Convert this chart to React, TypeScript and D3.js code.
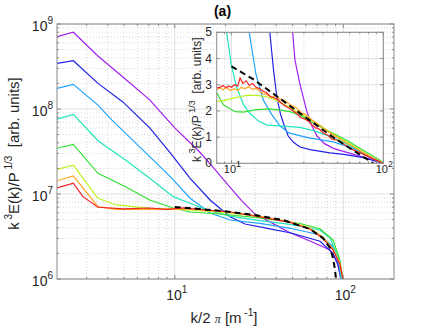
import React from 'react';
import * as d3 from 'd3';

// ---- main panel data: [k/2pi, k^3 E(k)/P^(1/3)] ----
const mainPurple = [[2, 7.1e8], [2.5, 8.0e8], [3.5, 4.2e8], [4.9, 2.4e8], [7.1, 1.28e8], [10, 6.0e7], [14.1, 3.1e7], [17.5, 1.9e7], [21.3, 1.2e7], [25, 8.3e6], [29.9, 5.8e6], [36.7, 4.7e6], [48.3, 3.5e6], [63.4, 2.8e6], [83.4, 2.2e6], [91.8, 1.6e6], [95.5, 1.2e6], [98, 7e5], [99, 4e5]];
const mainBlue = [[2, 3.45e8], [2.5, 3.7e8], [3.5, 2.0e8], [4.9, 1.22e8], [7.1, 6.0e7], [9.4, 3.04e7], [12.3, 1.54e7], [16.2, 8.5e6], [21.3, 5.4e6], [26.1, 4.44e6], [35.5, 3.95e6], [49, 3.48e6], [72.8, 2.78e6], [86.9, 2.0e6], [93.1, 1.46e6], [96.9, 1.0e6], [99, 4e5]];
const mainLightBlue = [[2, 1.75e8], [2.5, 1.95e8], [3.5, 1.11e8], [4.24, 7.4e7], [7.1, 2.75e7], [9.4, 1.6e7], [12.3, 8.97e6], [16.2, 5.98e6], [21.3, 4.94e6], [32, 4.52e6], [48.7, 3.95e6], [72.8, 3.29e6], [86.9, 2.4e6], [95.5, 1.4e6], [99.2, 4e5]];
const mainTeal = [[2, 7.6e7], [2.5, 8.66e7], [3.5, 4.24e7], [5.1, 2.51e7], [7.1, 1.53e7], [9.8, 9.3e6], [12.3, 7.78e6], [16.2, 6.3e6], [21.3, 5.5e6], [32, 4.85e6], [48.3, 4.4e6], [72.8, 3.77e6], [83.4, 3.03e6], [93.1, 1.82e6], [98.2, 1.0e6], [100, 4e5]];
const mainGreen = [[2, 3.45e7], [2.5, 3.84e7], [3.5, 1.75e7], [5.1, 1.22e7], [7.1, 8.5e6], [9.8, 6.84e6], [12.3, 6.14e6], [18.5, 5.82e6], [32, 5.25e6], [55.4, 4.5e6], [72.8, 3.9e6], [86.9, 2.88e6], [95.5, 1.67e6], [99.5, 1.0e6], [100.5, 4e5]];
const mainYellow = [[2, 1.95e7], [2.5, 2.19e7], [3.5, 8.9e6], [4.5, 7.43e6], [7.1, 6.79e6], [12.3, 6.48e6], [21.3, 6.0e6], [32, 5.45e6], [48.3, 4.69e6], [63.4, 3.98e6], [75.8, 3.1e6], [86.9, 2.25e6], [95.5, 1.5e6], [99.5, 1.0e6], [100.5, 4e5]];
const mainOrange = [[2, 1.43e7], [2.5, 1.63e7], [3.5, 7.1e6], [4.5, 6.61e6], [7.1, 6.58e6], [12.3, 6.67e6], [21.3, 6.14e6], [32, 5.45e6], [48.3, 4.69e6], [63.4, 3.93e6], [75.8, 3.06e6], [86.9, 2.25e6], [95.5, 1.5e6], [99.5, 1.0e6], [100.5, 4e5]];
const mainRed = [[2, 1.18e7], [2.5, 1.34e7], [2.85, 9.3e6], [3.5, 6.98e6], [5, 6.7e6], [7.1, 6.84e6], [9, 6.6e6], [11.2, 6.88e6], [15, 6.5e6], [21.3, 6.14e6], [32, 5.36e6], [48.3, 4.63e6], [63.4, 3.87e6], [75.8, 3.0e6], [86.9, 2.2e6], [95.5, 1.48e6], [99.5, 1.0e6], [100.5, 4e5]];
const mainFit = [[10, 7.03e6], [14.1, 6.67e6], [20.4, 6.23e6], [29.9, 5.66e6], [43.9, 4.94e6], [63.4, 3.87e6], [75.8, 3.03e6], [83.4, 2.32e6], [86.9, 1.77e6], [89.3, 1.28e6], [90.5, 1.0e6], [91, 8e5]];

// ---- inset data: [k/2pi, compensated spectrum] ----
const insetPurple = [[24.8, 6], [25.3, 5], [26.2, 3.94], [28.3, 3.0], [31.3, 2.0], [34, 1.4], [36.5, 1.05], [41, 0.75], [46.9, 0.57], [60.4, 0.38], [77.9, 0.2], [100, 0]];
const insetBlue = [[17.5, 6], [17.9, 5], [18.9, 3.6], [19.9, 2.54], [21, 1.9], [22, 1.53], [23.6, 1.05], [25.6, 0.8], [28.3, 0.62], [32.9, 0.52], [44.5, 0.4], [55, 0.34], [73.6, 0.22], [100, 0]];
const insetLightBlue = [[12.6, 6], [13.1, 5], [14.5, 3.4], [16.2, 2.42], [18.5, 1.85], [20.9, 1.42], [24.1, 1.15], [32.9, 0.96], [46.9, 0.82], [63.4, 0.57], [80, 0.25], [100, 0]];
const insetTeal = [[8.9, 6], [9.3, 5.0], [10, 3.75], [10.8, 2.92], [12, 2.25], [13.2, 1.91], [15, 1.62], [17.1, 1.46], [22, 1.42], [28.3, 1.37], [36.5, 1.21], [46.9, 0.98], [60.4, 0.68], [77.9, 0.3], [100, 0]];
const insetGreen = [[8, 2.7], [8.85, 2.23], [10.6, 1.97], [12, 1.95], [14.5, 2.05], [18, 2.08], [21, 2.03], [24.3, 1.97], [28.3, 1.84], [34.5, 1.55], [44.5, 1.2], [57.5, 0.88], [73.7, 0.5], [95, 0.12], [100, 0]];
const insetYellow = [[8, 2.35], [9, 2.4], [10, 2.47], [11.5, 2.55], [13, 2.6], [15, 2.58], [17, 2.54], [19.5, 2.42], [24, 2.15], [30, 1.82], [38, 1.45], [47, 1.1], [60, 0.75], [75, 0.4], [90, 0.12], [100, 0]];
const insetOrange = [[8, 2.82], [8.4, 2.88], [8.8, 2.8], [9.3, 2.9], [9.8, 2.78], [10.4, 2.85], [11, 2.78], [11.6, 2.9], [12.3, 2.85], [13, 2.92], [13.8, 2.82], [14.6, 2.86], [15.5, 2.72], [16.5, 2.65], [17.5, 2.6], [18.5, 2.52], [19.6, 2.58], [20.8, 2.45], [22, 2.42], [23.5, 2.3], [25, 2.2], [27, 2.1], [29, 1.92], [31, 1.85], [34, 1.65], [38, 1.45], [43, 1.22], [50, 0.98], [60, 0.72], [72, 0.45], [85, 0.2], [100, 0]];
const insetRed = [[8, 2.88], [8.4, 2.9], [8.8, 2.97], [9.2, 2.88], [9.6, 2.95], [10, 2.9], [10.5, 3.0], [11, 2.95], [11.4, 3.25], [11.9, 3.05], [12.5, 3.15], [13.1, 2.98], [13.8, 3.05], [14.5, 2.9], [15.3, 2.85], [16.2, 2.75], [17, 2.7], [18, 2.55], [19, 2.5], [20, 2.45], [21.3, 2.3], [22.5, 2.2], [24, 2.1], [25.5, 2.0], [27, 1.9], [28.5, 1.75], [30, 1.7], [32, 1.62], [34, 1.45], [36, 1.35], [38, 1.3], [40.5, 1.15], [43, 1.08], [46, 0.92], [50, 0.88], [56, 0.7], [63, 0.52], [72, 0.38], [85, 0.18], [100, 0]];
const insetFit = [[10, 3.7], [14, 3.2], [20, 2.55], [30, 1.8], [46.6, 1.0], [65, 0.45], [80, 0.12], [86, 0]];

const seriesColors = ['#a020f0', '#2020e6', '#20a4ff', '#20e4bc', '#34e030', '#bcf020', '#ffa424', '#f52222'];
const mainSeries = [mainPurple, mainBlue, mainLightBlue, mainTeal, mainGreen, mainYellow, mainOrange, mainRed];
const insetSeries = [insetPurple, insetBlue, insetLightBlue, insetTeal, insetGreen, insetYellow, insetOrange, insetRed];

const mainXTicks = [10, 100];
const mainYTicks = [1e6, 1e7, 1e8, 1e9];
const insetXTicks = [10, 100];
const insetYTicks = [0, 1, 2, 3, 4, 5];

const FONT = '"Liberation Sans", Arial, Helvetica, sans-serif';
const TXT = '#262626';
const AX = '#8a8a8a';

// minor log positions (2..9 x decade) strictly inside [lo, hi]
function minorLog(lo, hi) {
  const out = [];
  for (let e = Math.floor(Math.log10(lo)); e <= Math.ceil(Math.log10(hi)); e++) {
    for (let m = 2; m <= 9; m++) {
      const v = m * Math.pow(10, e);
      if (v > lo * 1.0001 && v < hi * 0.9999) out.push(v);
    }
  }
  return out;
}

function App() {
  // main axes box
  const mL = 57, mR = 394, mT = 24, mB = 279;
  const x = d3.scaleLog().domain([2, 200]).range([mL, mR]);
  const y = d3.scaleLog().domain([1e6, 1e9]).range([mB, mT]);

  // inset axes box
  const iL = 216.7, iR = 383.3, iT = 32.3, iB = 163.3;
  const xi = d3.scaleLog().domain([8, 100]).range([iL, iR]);
  const yi = d3.scaleLinear().domain([0, 5]).range([iB, iT]);

  const mainLine = d3.line().x(d => x(d[0])).y(d => y(d[1]));
  const insetLine = d3.line().x(d => xi(d[0])).y(d => yi(d[1]));

  const mxMinor = minorLog(2, 200);
  const myMinor = minorLog(1e6, 1e9);
  const ixMinor = minorLog(8, 100);

  return (
    <svg width={436} height={327} style={{ position: 'absolute', left: 0, top: 0, background: '#fff' }}
      fontFamily={FONT}>
      <defs>
        <clipPath id="clipMain"><rect x={mL} y={mT} width={mR - mL} height={mB - mT} /></clipPath>
        <clipPath id="clipInset"><rect x={iL} y={iT} width={iR - iL} height={iB - iT} /></clipPath>
      </defs>

      {/* main grid */}
      <g>
        {mxMinor.map(v => <line key={'mgx' + v} x1={x(v)} x2={x(v)} y1={mT} y2={mB} stroke="#c8c8c8" strokeWidth={0.7} strokeDasharray="1 2" />)}
        {myMinor.map(v => <line key={'mgy' + v} y1={y(v)} y2={y(v)} x1={mL} x2={mR} stroke="#c8c8c8" strokeWidth={0.7} strokeDasharray="1 2" />)}
        {mainXTicks.map(v => <line key={'Mgx' + v} x1={x(v)} x2={x(v)} y1={mT} y2={mB} stroke="#e0e0e0" />)}
        {mainYTicks.map(v => <line key={'Mgy' + v} y1={y(v)} y2={y(v)} x1={mL} x2={mR} stroke="#e0e0e0" />)}
      </g>

      {/* main curves */}
      <g clipPath="url(#clipMain)" fill="none">
        {mainSeries.map((s, i) => <path key={'m' + i} d={mainLine(s)} stroke={seriesColors[i]} strokeWidth={1.2} />)}
        <path d={mainLine(mainFit)} stroke="#000" strokeWidth={2} strokeDasharray="6 4" />
      </g>

      {/* main box and ticks */}
      <g stroke={AX} strokeWidth={1}>
        <rect x={mL} y={mT} width={mR - mL} height={mB - mT} fill="none" />
        {mainXTicks.map(v => <g key={'tx' + v}>
          <line x1={x(v)} x2={x(v)} y1={mB} y2={mB - 4} />
          <line x1={x(v)} x2={x(v)} y1={mT} y2={mT + 4} />
        </g>)}
        {mxMinor.map(v => <g key={'tmx' + v}>
          <line x1={x(v)} x2={x(v)} y1={mB} y2={mB - 2} />
          <line x1={x(v)} x2={x(v)} y1={mT} y2={mT + 2} />
        </g>)}
        {mainYTicks.map(v => <g key={'ty' + v}>
          <line y1={y(v)} y2={y(v)} x1={mL} x2={mL + 4} />
          <line y1={y(v)} y2={y(v)} x1={mR} x2={mR - 4} />
        </g>)}
        {myMinor.map(v => <g key={'tmy' + v}>
          <line y1={y(v)} y2={y(v)} x1={mL} x2={mL + 2} />
          <line y1={y(v)} y2={y(v)} x1={mR} x2={mR - 2} />
        </g>)}
      </g>

      {/* main tick labels */}
      <g fill={TXT}>
        {mainYTicks.map(v => (
          <text key={'ly' + v} x={53} y={y(v) + 6.5} textAnchor="end" fontSize={14}>
            10<tspan dy={-7} fontSize={10}>{Math.round(Math.log10(v))}</tspan>
          </text>
        ))}
        {mainXTicks.map(v => (
          <text key={'lx' + v} x={x(v) + 2} y={300} textAnchor="middle" fontSize={14}>
            10<tspan dy={-7} fontSize={10}>{Math.round(Math.log10(v))}</tspan>
          </text>
        ))}
      </g>

      {/* axis labels and title */}
      <text x={224} y={323} textAnchor="middle" fontSize={15} fill={TXT}>
        k/2 <tspan fontFamily='"Liberation Serif", serif' fontStyle="italic" fontSize={12}>π</tspan> [m<tspan dy={-7} fontSize={10}> -1</tspan><tspan dy={7}>]</tspan>
      </text>
      <text transform={`translate(19,${(mT + mB) / 2 + 2}) rotate(-90)`} textAnchor="middle" fontSize={15} fill={TXT}>
        k<tspan dy={-7} fontSize={10}> 3</tspan><tspan dy={7}>E(k)/P</tspan><tspan dy={-7} fontSize={10}> 1/3</tspan><tspan dy={7}>{'\u00a0 [arb. units]'}</tspan>
      </text>
      <text x={(mL + mR) / 2 - 3} y={16} textAnchor="middle" fontSize={14} fontWeight="bold" fill="#000">(a)</text>

      {/* inset */}
      <rect x={iL} y={iT} width={iR - iL} height={iB - iT} fill="#fff" />
      <g>
        {ixMinor.map(v => <line key={'igx' + v} x1={xi(v)} x2={xi(v)} y1={iT} y2={iB} stroke="#c8c8c8" strokeWidth={0.7} strokeDasharray="1 2" />)}
        {insetXTicks.map(v => <line key={'Igx' + v} x1={xi(v)} x2={xi(v)} y1={iT} y2={iB} stroke="#e0e0e0" />)}
        {insetYTicks.map(v => <line key={'Igy' + v} y1={yi(v)} y2={yi(v)} x1={iL} x2={iR} stroke="#e0e0e0" />)}
      </g>
      <g clipPath="url(#clipInset)" fill="none">
        {insetSeries.map((s, i) => <path key={'i' + i} d={insetLine(s)} stroke={seriesColors[i]} strokeWidth={1.2} />)}
        <path d={insetLine(insetFit)} stroke="#000" strokeWidth={2} strokeDasharray="6 4" />
      </g>
      <g stroke={AX} strokeWidth={1}>
        <rect x={iL} y={iT} width={iR - iL} height={iB - iT} fill="none" />
        {insetXTicks.map(v => <g key={'itx' + v}>
          <line x1={xi(v)} x2={xi(v)} y1={iB} y2={iB - 3} />
          <line x1={xi(v)} x2={xi(v)} y1={iT} y2={iT + 3} />
        </g>)}
        {ixMinor.map(v => <g key={'itmx' + v}>
          <line x1={xi(v)} x2={xi(v)} y1={iB} y2={iB - 1.8} />
          <line x1={xi(v)} x2={xi(v)} y1={iT} y2={iT + 1.8} />
        </g>)}
        {insetYTicks.map(v => <g key={'ity' + v}>
          <line y1={yi(v)} y2={yi(v)} x1={iL} x2={iL + 3} />
          <line y1={yi(v)} y2={yi(v)} x1={iR} x2={iR - 3} />
        </g>)}
      </g>
      <g fill={TXT}>
        {insetYTicks.map(v => (
          <text key={'ily' + v} x={212} y={yi(v) + 4} textAnchor="end" fontSize={12}>{v}</text>
        ))}
        {insetXTicks.map(v => (
          <text key={'ilx' + v} x={xi(v) + 1} y={173} textAnchor="middle" fontSize={11}>
            10<tspan dy={-6} fontSize={9}>{Math.round(Math.log10(v))}</tspan>
          </text>
        ))}
      </g>
      <text transform={`translate(201,${(iT + iB) / 2 + 2}) rotate(-90)`} textAnchor="middle" fontSize={12} fill={TXT}>
        k<tspan dy={-6} fontSize={9}> 3</tspan><tspan dy={6}>E(k)/P</tspan><tspan dy={-6} fontSize={9}> 1/3</tspan><tspan dy={6}>{'\u00a0 [arb. units]'}</tspan>
      </text>
    </svg>
  );
}

export default App;
